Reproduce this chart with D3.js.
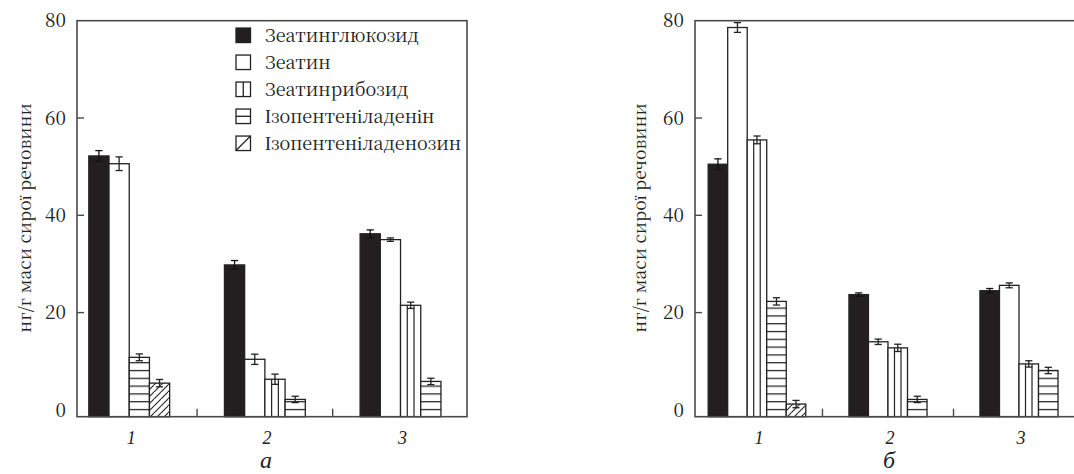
<!DOCTYPE html>
<html><head><meta charset="utf-8">
<script src="https://cdn.jsdelivr.net/npm/d3@7"></script>
<style>
html,body{margin:0;padding:0;background:#fff;}
svg{display:block;}
</style></head>
<body>
<script>
// ---- data ----
const categories = ["1", "2", "3"];
const seriesNames = ["Зеатинглюкозид", "Зеатин", "Зеатинрибозид", "Ізопентеніладенін", "Ізопентеніладенозин"];
const yTicks = [0, 20, 40, 60, 80];
const yTitle = "нг/г маси сирої речовини";
const panelLabels = ["а", "б"];

// panel а
const a_gluc = [52.2, 29.8, 36.2], a_gluc_err = [1.1, 0.9, 0.8];
const a_zeat = [50.6, 10.4, 35.0], a_zeat_err = [1.4, 1.05, 0.35];
const a_rib  = [null, 6.3, 21.5],  a_rib_err  = [null, 1.05, 0.65];
const a_ipa  = [10.8, 2.15, 5.85], a_ipa_err  = [0.7, 0.65, 0.65];
const a_ipr  = [5.5, null, null],  a_ipr_err  = [0.75, null, null];
// panel б
const b_gluc = [50.5, 23.7, 24.5], b_gluc_err = [1.1, 0.35, 0.45];
const b_zeat = [78.6, 14.0, 25.6], b_zeat_err = [1.0, 0.55, 0.5];
const b_rib  = [55.5, 12.75, 9.45], b_rib_err = [0.8, 0.75, 0.65];
const b_ipa  = [22.3, 2.15, 8.1],  b_ipa_err  = [0.75, 0.65, 0.65];
const b_ipr  = [1.2, null, null],  b_ipr_err  = [0.75, null, null];

const W = 1074, H = 474;
const FONT = "'Noto Serif CJK SC', 'Liberation Serif', serif";
const FONT_IT = "'Liberation Serif', serif";
const svg = d3.select("body").append("svg").attr("width", W).attr("height", H);
const ink = "#222", frameCol = "#4a4a4a", txt = "#222";
function T(sel, f) { return sel.style("font-family", f || FONT).attr("fill", txt); }

const defs = svg.append("defs");
const ph = defs.append("pattern").attr("id", "hstripe").attr("patternUnits", "userSpaceOnUse")
  .attr("width", 10).attr("height", 7.8).attr("y", 416.7 % 7.8);
ph.append("rect").attr("width", 10).attr("height", 7.8).attr("fill", "#fff");
ph.append("line").attr("x1", 0).attr("x2", 10).attr("y1", 0.6).attr("y2", 0.6).attr("stroke", ink).attr("stroke-width", 1.3);
const pd = defs.append("pattern").attr("id", "diag").attr("patternUnits", "userSpaceOnUse")
  .attr("width", 7).attr("height", 7);
pd.append("rect").attr("width", 7).attr("height", 7).attr("fill", "#fff");
pd.append("path").attr("d", "M-1,8 L8,-1 M-2,1.5 L1.5,-2 M5.5,8.5 L8.5,5.5").attr("stroke", ink).attr("stroke-width", 1.1);

const fills = ["#231f20", "#fff", "#fff", "url(#hstripe)", "url(#diag)"];

function panel(opts) {
  const {x0, x1, domain, series, errs, label} = opts;
  const top = 20.7, bottom = 416.7;
  const x = d3.scaleLinear().domain(domain).range([x0, x1]);
  const y = d3.scaleLinear().domain([-1.4, 80]).range([bottom, top]);
  const g = svg.append("g");
  const bw = x(1.149) - x(1);

  categories.forEach((c, ci) => {
    const present = series.map((s, si) => ({si, v: s[ci], e: errs[si][ci]})).filter(d => d.v != null);
    const cx = x(ci + 1);
    const start = cx - present.length * bw / 2;
    present.forEach((d, k) => {
      const bx = start + k * bw;
      const yt = y(d.v);
      g.append("rect").attr("x", bx).attr("y", yt).attr("width", bw).attr("height", y.range()[0] - yt)
        .attr("fill", fills[d.si]).attr("stroke", ink).attr("stroke-width", 1.3);
      if (d.si === 2) {
        [1, 2].forEach(f => g.append("line").attr("x1", bx + f * bw / 3).attr("x2", bx + f * bw / 3)
          .attr("y1", yt).attr("y2", y.range()[0]).attr("stroke", ink).attr("stroke-width", 1.2));
      }
      const ex = bx + bw / 2;
      const col = d.si === 0 ? "#111" : ink;
      g.append("line").attr("x1", ex).attr("x2", ex).attr("y1", y(d.v + d.e)).attr("y2", y(d.v - d.e)).attr("stroke", col).attr("stroke-width", 1.3);
      [d.v + d.e, d.v - d.e].forEach(v => g.append("line").attr("x1", ex - 3.6).attr("x2", ex + 3.6)
        .attr("y1", y(v)).attr("y2", y(v)).attr("stroke", col).attr("stroke-width", 1.3));
    });
  });

  g.append("rect").attr("x", x0).attr("y", top).attr("width", x1 - x0).attr("height", bottom - top)
    .attr("fill", "none").attr("stroke", frameCol).attr("stroke-width", 1.6);
  yTicks.forEach(t => {
    if (t > 0 && t < 80) g.append("line").attr("x1", x0).attr("x2", x0 + 7).attr("y1", y(t)).attr("y2", y(t))
      .attr("stroke", frameCol).attr("stroke-width", 1.4);
    T(g.append("text")).attr("x", x0 - 11).attr("y", y(t)).attr("dy", "0.35em").attr("text-anchor", "end")
      .attr("font-size", 19).text(t);
  });
  [1.5, 2.5].forEach(t => g.append("line").attr("x1", x(t)).attr("x2", x(t)).attr("y1", bottom).attr("y2", bottom - 8)
    .attr("stroke", frameCol).attr("stroke-width", 1.4));
  categories.forEach((c, ci) => T(g.append("text"), FONT_IT).attr("x", x(ci + 1) + 2).attr("y", 444).attr("text-anchor", "middle")
    .attr("font-size", 18).attr("font-style", "italic").text(c));
  T(g.append("text")).attr("transform", `translate(${opts.titleX},218) rotate(-90)`).attr("text-anchor", "middle")
    .attr("font-size", 17.5).attr("dy", "0.35em").text(yTitle);
  T(g.append("text"), FONT_IT).attr("x", opts.labelX).attr("y", opts.labelY).attr("text-anchor", "middle")
    .attr("font-size", 24).attr("font-style", "italic").text(label);
  return g;
}

panel({x0: 77, x1: 467, domain: [0.615, 3.49],
  series: [a_gluc, a_zeat, a_rib, a_ipa, a_ipr], errs: [a_gluc_err, a_zeat_err, a_rib_err, a_ipa_err, a_ipr_err],
  label: panelLabels[0], titleX: 25, labelX: 266, labelY: 468});
panel({x0: 695, x1: 1084.5, domain: [0.527, 3.5],
  series: [b_gluc, b_zeat, b_rib, b_ipa, b_ipr], errs: [b_gluc_err, b_zeat_err, b_rib_err, b_ipa_err, b_ipr_err],
  label: panelLabels[1], titleX: 640, labelX: 889, labelY: 468});

const lg = svg.append("g");
seriesNames.forEach((n, i) => {
  const cy = 35.3 + i * 27;
  const sx = 236, s = 14.5, sy = cy - s / 2;
  lg.append("rect").attr("x", sx).attr("y", sy).attr("width", s).attr("height", s)
    .attr("fill", i === 0 ? fills[0] : "#fff").attr("stroke", ink).attr("stroke-width", 1.3);
  if (i === 2) lg.append("line").attr("x1", sx + s / 2).attr("x2", sx + s / 2).attr("y1", sy).attr("y2", sy + s).attr("stroke", ink).attr("stroke-width", 1.3);
  if (i === 3) lg.append("line").attr("x1", sx).attr("x2", sx + s).attr("y1", cy).attr("y2", cy).attr("stroke", ink).attr("stroke-width", 1.3);
  if (i === 4) lg.append("line").attr("x1", sx).attr("x2", sx + s).attr("y1", sy + s).attr("y2", sy).attr("stroke", ink).attr("stroke-width", 1.3);
  T(lg.append("text")).attr("x", 265).attr("y", cy).attr("dy", "0.35em").attr("font-size", 18).text(n);
});
</script>
</body></html>
